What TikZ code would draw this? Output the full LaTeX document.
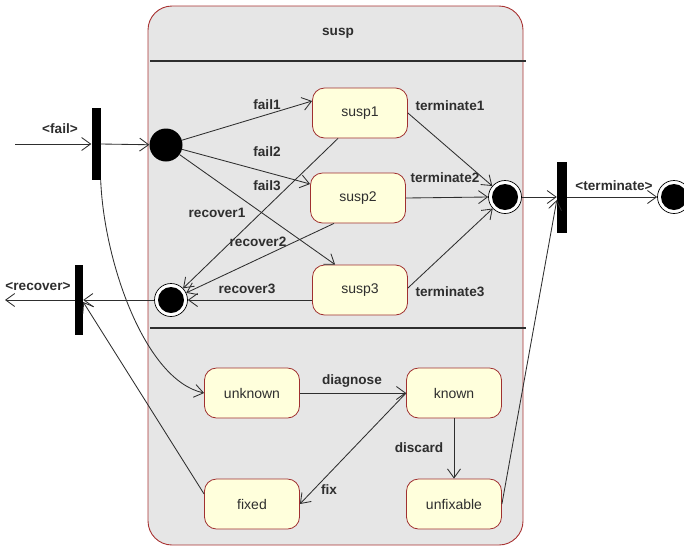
\documentclass[tikz,border=0pt]{standalone}
\usepackage{fontspec}
\setmainfont{Liberation Sans}
\usetikzlibrary{arrows.meta,calc}
\definecolor{boxfill}{HTML}{E6E6E6}
\definecolor{boxline}{HTML}{A83232}
\definecolor{statefill}{HTML}{FFFFDC}
\definecolor{stateline}{HTML}{A03030}
\definecolor{ink}{HTML}{2E2E2E}
\begin{document}
\begin{tikzpicture}[x=1pt,y=-1pt,
  state/.style={draw=stateline, fill=statefill, rounded corners=12pt,
    minimum width=95pt, minimum height=50pt, inner sep=0pt,
    font=\fontsize{14}{16}\selectfont, text=ink, line width=0.8pt},
  bar/.style={fill=black, inner sep=0pt},
  initial/.style={circle, fill=black, minimum size=33pt, inner sep=0pt},
  final/.style={circle, draw=black, fill=white, line width=0.7pt,
    minimum size=33pt, inner sep=0pt,
    path picture={\fill[black] (path picture bounding box.center) circle (13pt);}},
  trans/.style={draw=ink, line width=0.85pt, -{Straight Barb[length=9pt,width=13pt]}},
  lbl/.style={font=\bfseries\fontsize{13.6}{15}\selectfont, text=ink, inner sep=1pt},
]
\useasboundingbox (0,0) rectangle (684,552);

% composite state
\draw[draw=boxline, fill=boxfill, rounded corners=24pt, line width=0.9pt]
  (148,6) rectangle (523,545);
\node[lbl] (title) at (338,33) {susp};
\draw[draw=ink, line width=1.3pt] (150,61) -- (526,61);
\draw[draw=ink, line width=1.3pt] (150,328) -- (526,328);

% pseudo-states
\node[bar, minimum width=9pt, minimum height=72pt] (bar1) at (96,144) {};
\node[bar, minimum width=8pt, minimum height=70pt] (bar2) at (79,300) {};
\node[bar, minimum width=10pt, minimum height=71pt] (bar3) at (562,197) {};
\node[initial] (init) at (166,145) {};
\node[final] (finR) at (171,300) {};
\node[final] (finT) at (505,197) {};
\node[final] (finOut) at (674,197) {};
\coordinate (failin) at (15,144);
\coordinate (recout) at (5,300);

% states
\node[state] (susp1) at (360,113) {susp1};
\node[state] (susp2) at (358,198) {susp2};
\node[state] (susp3) at (360,290) {susp3};
\node[state] (unknown) at (252,393) {unknown};
\node[state] (known) at (454,393) {known};
\node[state] (fixed) at (252,504) {fixed};
\node[state] (unfixable) at (454,504) {unfixable};

% transitions
\draw[trans] (failin) -- (bar1.west);
\draw[trans] (bar1.east) -- (init);
\draw[trans] (init) -- ($(susp1.west)+(0,-12)$);
\draw[trans] (init) -- ($(susp2.west)+(0,-14)$);
\draw[trans] (init) -- ($(susp3.north west)+(23,0)$);
\draw[trans] ($(susp1.south)+(-22,0)$) -- (finR);
\draw[trans] ($(susp2.south)+(-24,0)$) -- (finR);
\draw[trans] ($(susp3.west)+(0,10)$) -- (finR.east);
\draw[trans] (finR.west) -- (bar2.east);
\draw[trans] (bar2.west) -- (recout);
\draw[trans] ($(fixed.west)+(0,-10)$) -- ($(bar2.east)+(0,2)$);
\draw[trans] (bar1.south east) .. controls (104,262) and (145,380) .. (unknown.west);
\draw[trans] (susp1.east) -- (finT);
\draw[trans] (susp2.east) -- (finT.west);
\draw[trans] ($(susp3.east)+(0,-2)$) -- (finT);
\draw[trans] (finT.east) -- (bar3.west);
\draw[trans] (bar3.east) -- (finOut.west);
\draw[trans] (unfixable.east) -- ($(bar3.west)+(0,3)$);
\draw[trans] (unknown.east) -- (known.west);
\draw[trans] (known.west) -- (fixed.east);
\draw[trans] (known.south) -- (unfixable.north);

% labels
\node[lbl] (lfail) at (60,129) {<fail>};
\node[lbl] (lrecover) at (38,286) {<recover>};
\node[lbl] (lterminate) at (614,186) {<terminate>};
\node[lbl] (lfail1) at (267,105) {fail1};
\node[lbl] (lfail2) at (267,152) {fail2};
\node[lbl] (lfail3) at (267,186) {fail3};
\node[lbl] (lrec1) at (217,213) {recover1};
\node[lbl] (lrec2) at (258,242) {recover2};
\node[lbl] (lrec3) at (247,289) {recover3};
\node[lbl] (lterm1) at (450,106) {terminate1};
\node[lbl] (lterm2) at (445,178) {terminate2};
\node[lbl] (lterm3) at (450,292) {terminate3};
\node[lbl] (ldiag) at (352,381) {diagnose};
\node[lbl] (ldisc) at (419,448) {discard};
\node[lbl] (lfix) at (329,490) {fix};
\end{tikzpicture}
\end{document}
